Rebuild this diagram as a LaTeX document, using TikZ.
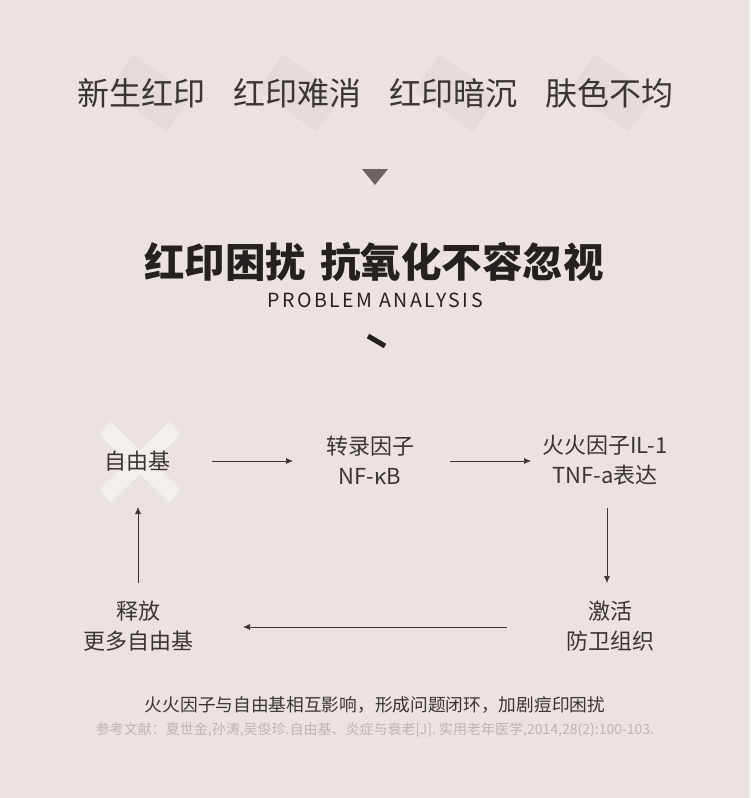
\documentclass[tikz,border=0pt]{standalone}
\usepackage{fontspec}
\setmainfont{Noto Sans CJK SC}
\usetikzlibrary{arrows.meta}
\definecolor{bgc}{HTML}{EAE3DF}
\definecolor{txt}{HTML}{3A3433}
\definecolor{ttl}{HTML}{262020}
\definecolor{tri}{HTML}{6B6462}
\definecolor{shadec}{HTML}{E3DCD8}
\definecolor{xcol}{HTML}{F2EFEC}
\definecolor{refc}{HTML}{BDB5B0}
\tikzset{
  topword/.style={font=\fontsize{32}{35}\selectfont, text=txt, inner sep=0pt},
  lbl/.style={font=\fontsize{22}{30}\selectfont, text=txt, align=center, inner sep=0pt},
  conn/.style={draw=txt, line width=0.7pt, -{Latex[length=7pt,width=6pt]}},
}
\begin{document}
\begin{tikzpicture}[x=1pt,y=-1pt]
\fill[bgc] (0,0) rectangle (750,798);
\useasboundingbox (0,0) rectangle (750,798);
% faint shapes behind top words
\foreach \cx in {150,300,456,612}{
  \fill[shadec, rotate around={-35:(\cx,93)}] (\cx-36,93-22) rectangle (\cx+36,93+22);
}
\node[topword] (w1) at (141,93) {新生红印};
\node[topword] (w2) at (297,93) {红印难消};
\node[topword] (w3) at (453,93) {红印暗沉};
\node[topword] (w4) at (609,93) {肤色不均};
% triangle
\fill[tri] (362,169) -- (388,169) -- (375,185) -- cycle;
% title
\node[font=\fontsize{40.5}{44}\selectfont\bfseries, text=ttl, inner sep=0pt] (title) at (374,262) {红印困扰\hspace{0.35em}抗氧化不容忽视};
\node[font=\fontsize{19.5}{22}\selectfont\addfontfeature{LetterSpace=13}, text=ttl, inner sep=0pt] (sub) at (375,300) {PROBLEM ANALYSIS};
\draw[ttl, line width=5pt] (368,336) -- (385,346);
% X behind 自由基
\draw[xcol, line width=17pt] (105,428) -- (175,496);
\draw[xcol, line width=17pt] (175,428) -- (105,496);
% nodes
\node[lbl] (fr) at (137,461) {自由基};
\node[lbl] (nf) at (370,460) {转录因子\\NF-κB};
\node[lbl] (il) at (605,460) {火火因子IL-1\\TNF-a表达};
\node[lbl] (act) at (610,626) {激活\\防卫组织};
\node[lbl] (rel) at (138,626) {释放\\更多自由基};
% connector anchors
\coordinate (a1s) at (212,461); \coordinate (a1e) at (293,461);
\coordinate (a2s) at (450,461); \coordinate (a2e) at (531,461);
\coordinate (a3s) at (607,508); \coordinate (a3e) at (607,583);
\coordinate (a4s) at (507,627); \coordinate (a4e) at (243,627);
\coordinate (a5s) at (138,583); \coordinate (a5e) at (138,507);
\draw[conn] (a1s) -- (a1e);
\draw[conn] (a2s) -- (a2e);
\draw[conn] (a3s) -- (a3e);
\draw[conn] (a4s) -- (a4e);
\draw[conn] (a5s) -- (a5e);
% bottom texts
\node[font=\fontsize{17.7}{20}\selectfont, text=txt, inner sep=0pt] (note) at (375,705) {火火因子与自由基相互影响，形成问题闭环，加剧痘印困扰};
\node[font=\fontsize{14}{16}\selectfont, text=refc, inner sep=0pt] (ref) at (375,730) {参考文献：夏世金,孙涛,吴俊珍.自由基、炎症与衰老[J]. 实用老年医学,2014,28(2):100-103.};
\end{tikzpicture}
\end{document}
